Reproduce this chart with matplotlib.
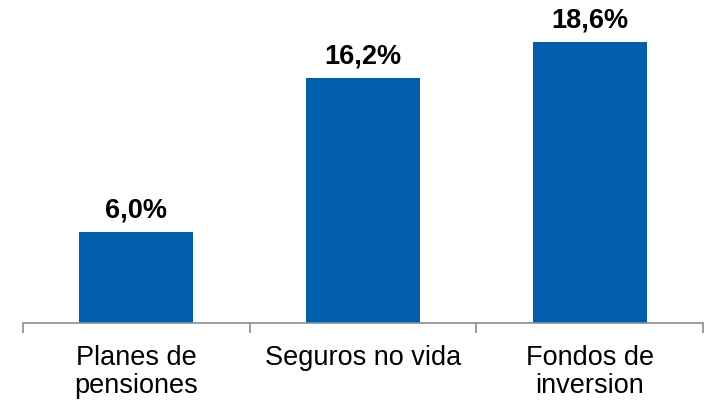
import matplotlib.pyplot as plt

plt.rcParams['font.family'] = ['Liberation Sans', 'DejaVu Sans']

categories = ["Planes de\npensiones", "Seguros no vida", "Fondos de\ninversion"]
values = [6.0, 16.2, 18.6]
value_labels = ["6,0%", "16,2%", "18,6%"]

BAR_COLOR = "#005EAA"
AXIS_COLOR = "#8C8C8C"

fig = plt.figure(figsize=(7.15, 4.02), dpi=100)
ax = fig.add_axes([23 / 715, (402 - 324) / 402, 680 / 715, 324 / 402])

x = range(len(categories))
ax.bar(x, values, width=0.503, color=BAR_COLOR)
for xi, v, lab in zip(x, values, value_labels):
    ax.annotate(lab, (xi, v), xytext=(0, 7), textcoords="offset points",
                ha="center", va="bottom", fontsize=19.5, fontweight="bold")

ax.set_xlim(-0.5, len(categories) - 0.5)
ax.set_ylim(0, 21.46)

for side in ["left", "right", "top"]:
    ax.spines[side].set_visible(False)
ax.spines["bottom"].set_color(AXIS_COLOR)
ax.spines["bottom"].set_linewidth(1.2)
ax.set_yticks([])

ax.set_xticks([i - 0.5 for i in range(len(categories) + 1)])
ax.set_xticklabels([])
ax.tick_params(axis="x", length=7, color=AXIS_COLOR, width=1.2)
ax.set_xticks(list(x), minor=True)
ax.set_xticklabels(categories, minor=True, fontsize=19.5, linespacing=1.12)
ax.tick_params(axis="x", which="minor", length=0, pad=15)

fig.savefig("out.png", dpi=100)
